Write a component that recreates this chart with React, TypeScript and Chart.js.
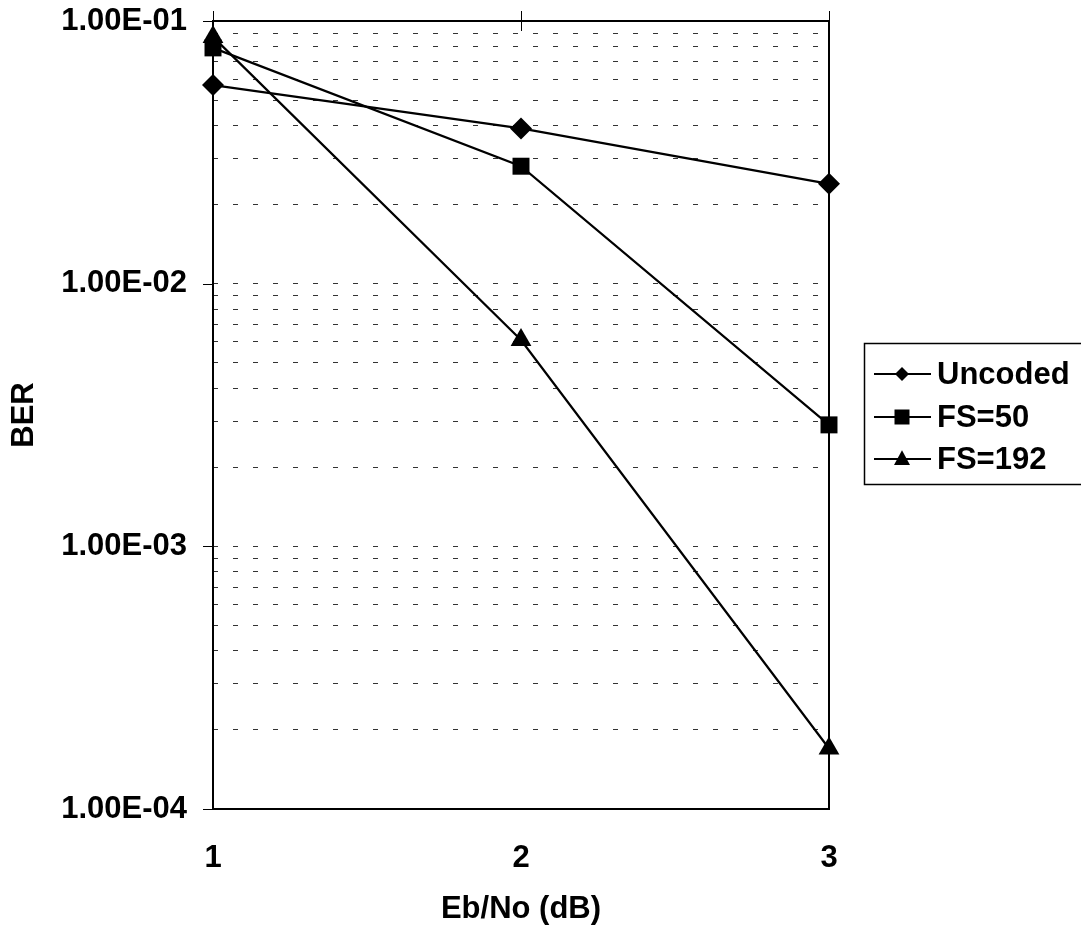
import React, { useEffect, useRef } from "react";
import { Chart, registerables } from "chart.js";

Chart.register(...registerables);

// Eb/No values (dB)
const ebNo = [1, 2, 3];

// Bit error rates per scheme
const uncodedBer = [0.057, 0.039, 0.024];
const fs50Ber = [0.079, 0.028, 0.0029];
const fs192Ber = [0.087, 0.0061, 0.00017];

const seriesNames = ["Uncoded", "FS=50", "FS=192"];
const seriesMarkers = ["rectRot", "rect", "triangle"];
const markerRadius = [11, 12, 12];

// Decade limits of the BER axis
const berMin = 1e-4;
const berMax = 1e-1;

const FONT = "'Liberation Sans', Arial, sans-serif";
const FONT_SIZE = 31;

function formatSci(v: number): string {
  const exp = Math.round(Math.log10(v));
  const mant = v / Math.pow(10, exp);
  const sign = exp < 0 ? "-" : "+";
  const e = Math.abs(exp).toString().padStart(2, "0");
  return `${mant.toFixed(2)}E${sign}${e}`;
}

function isDecade(v: number): boolean {
  const l = Math.log10(v);
  return Math.abs(l - Math.round(l)) < 1e-9;
}

const framePlugin = {
  id: "frame",
  beforeDatasetsDraw(chart: any) {
    const { ctx, chartArea, scales } = chart;
    const { left, right, top, bottom } = chartArea;
    ctx.save();
    ctx.strokeStyle = "#000";
    ctx.lineWidth = 2;
    ctx.strokeRect(left, top, right - left, bottom - top);

    // x tick marks crossing the top edge
    ctx.lineWidth = 1;
    ctx.strokeStyle = "#000";
    for (const v of ebNo) {
      const x = Math.round(scales.x.getPixelForValue(v)) + 0.5;
      ctx.beginPath();
      ctx.moveTo(x, top - 10);
      ctx.lineTo(x, top + 10);
      ctx.stroke();
    }
    // major y tick marks outside the left edge
    for (const t of scales.y.ticks) {
      if (!isDecade(t.value)) continue;
      const y = Math.round(scales.y.getPixelForValue(t.value)) + 0.5;
      ctx.beginPath();
      ctx.moveTo(left - 10, y);
      ctx.lineTo(left, y);
      ctx.stroke();
    }
    ctx.restore();
  },
};

function drawMarker(ctx: CanvasRenderingContext2D, style: string, x: number, y: number, r: number) {
  ctx.beginPath();
  if (style === "rectRot") {
    ctx.moveTo(x - r, y);
    ctx.lineTo(x, y - r);
    ctx.lineTo(x + r, y);
    ctx.lineTo(x, y + r);
  } else if (style === "rect") {
    ctx.rect(x - r, y - r, 2 * r, 2 * r);
  } else {
    ctx.moveTo(x, y - r * 1.1);
    ctx.lineTo(x + r, y + r * 0.75);
    ctx.lineTo(x - r, y + r * 0.75);
  }
  ctx.closePath();
  ctx.fill();
}

const legendPlugin = {
  id: "boxLegend",
  afterDraw(chart: any) {
    const { ctx } = chart;
    const boxLeft = 864;
    const boxTop = 343;
    const boxBottom = 484;
    const rows = [374, 417, 459];
    const legendMarkerR = [7, 7.5, 8];
    ctx.save();
    ctx.strokeStyle = "#000";
    ctx.lineWidth = 1.5;
    ctx.strokeRect(boxLeft + 0.5, boxTop + 0.5, 1081 + 10 - boxLeft, boxBottom - boxTop);
    ctx.font = `bold ${FONT_SIZE}px ${FONT}`;
    ctx.textBaseline = "middle";
    ctx.textAlign = "left";
    chart.data.datasets.forEach((ds: any, i: number) => {
      const y = rows[i];
      ctx.strokeStyle = "#000";
      ctx.lineWidth = 2;
      ctx.beginPath();
      ctx.moveTo(874, y);
      ctx.lineTo(931, y);
      ctx.stroke();
      ctx.fillStyle = "#000";
      drawMarker(ctx, seriesMarkers[i], 902, y, legendMarkerR[i]);
      ctx.fillText(ds.label, 937, y + 1);
    });
    ctx.restore();
  },
};

export default function App() {
  const canvasRef = useRef<HTMLCanvasElement | null>(null);

  useEffect(() => {
    document.body.style.margin = "0";
    const canvas = canvasRef.current;
    if (!canvas) return;

    const seriesData = [uncodedBer, fs50Ber, fs192Ber];
    const datasets = seriesData.map((vals, i) => ({
      label: seriesNames[i],
      data: ebNo.map((x, j) => ({ x, y: vals[j] })),
      borderColor: "#000",
      backgroundColor: "#000",
      borderWidth: 2.2,
      pointStyle: seriesMarkers[i],
      pointRadius: markerRadius[i],
      pointBorderWidth: 0,
      pointBackgroundColor: "#000",
      tension: 0,
      clip: false,
    }));

    const tickFont = { family: FONT, size: FONT_SIZE, weight: "bold" };

    const chart = new Chart(canvas, {
      type: "line",
      data: { datasets },
      options: {
        animation: false,
        responsive: false,
        devicePixelRatio: 1,
        layout: { padding: { top: 21, right: 252, bottom: 0, left: 0 } },
        plugins: {
          legend: { display: false },
          tooltip: { enabled: false },
        },
        scales: {
          x: {
            type: "linear",
            min: 1,
            max: 3,
            afterFit(scale: any) {
              scale.height = 125;
              scale.paddingLeft = 0;
              scale.paddingRight = 0;
            },
            afterBuildTicks(scale: any) {
              scale.ticks = ebNo.map((v) => ({ value: v }));
            },
            grid: { display: false, drawTicks: false },
            border: { display: false },
            ticks: {
              padding: 31,
              color: "#000",
              font: tickFont,
              callback: (v: any) => String(v),
            },
            title: {
              display: true,
              text: "Eb/No (dB)",
              color: "#000",
              font: tickFont,
              padding: { top: 0, bottom: 6 },
            },
          },
          y: {
            type: "logarithmic",
            min: berMin,
            max: berMax,
            afterFit(scale: any) {
              scale.width = 213;
              scale.paddingTop = 0;
              scale.paddingBottom = 0;
            },
            afterBuildTicks(scale: any) {
              const ticks: { value: number }[] = [];
              for (let e = -4; e <= -1; e++) {
                for (let m = 1; m <= 9; m++) {
                  const v = m * Math.pow(10, e);
                  if (v > berMax * 1.0001) break;
                  ticks.push({ value: Number(v.toPrecision(3)) });
                }
              }
              scale.ticks = ticks;
            },
            grid: {
              drawTicks: false,
              color: "#333",
              lineWidth: 1,
            },
            border: { display: false, dash: [5, 15] },
            ticks: {
              autoSkip: false,
              padding: 26,
              color: "#000",
              font: tickFont,
              callback: (v: any) => (isDecade(Number(v)) ? formatSci(Number(v)) : ""),
            },
            title: {
              display: true,
              text: "BER",
              color: "#000",
              font: tickFont,
              padding: { top: 6, bottom: 0 },
            },
          },
        },
      } as any,
      plugins: [framePlugin, legendPlugin],
    });

    return () => chart.destroy();
  }, []);

  return (
    <div style={{ width: 1081, height: 934 }}>
      <canvas ref={canvasRef} width={1081} height={934} style={{ display: "block" }} />
    </div>
  );
}
